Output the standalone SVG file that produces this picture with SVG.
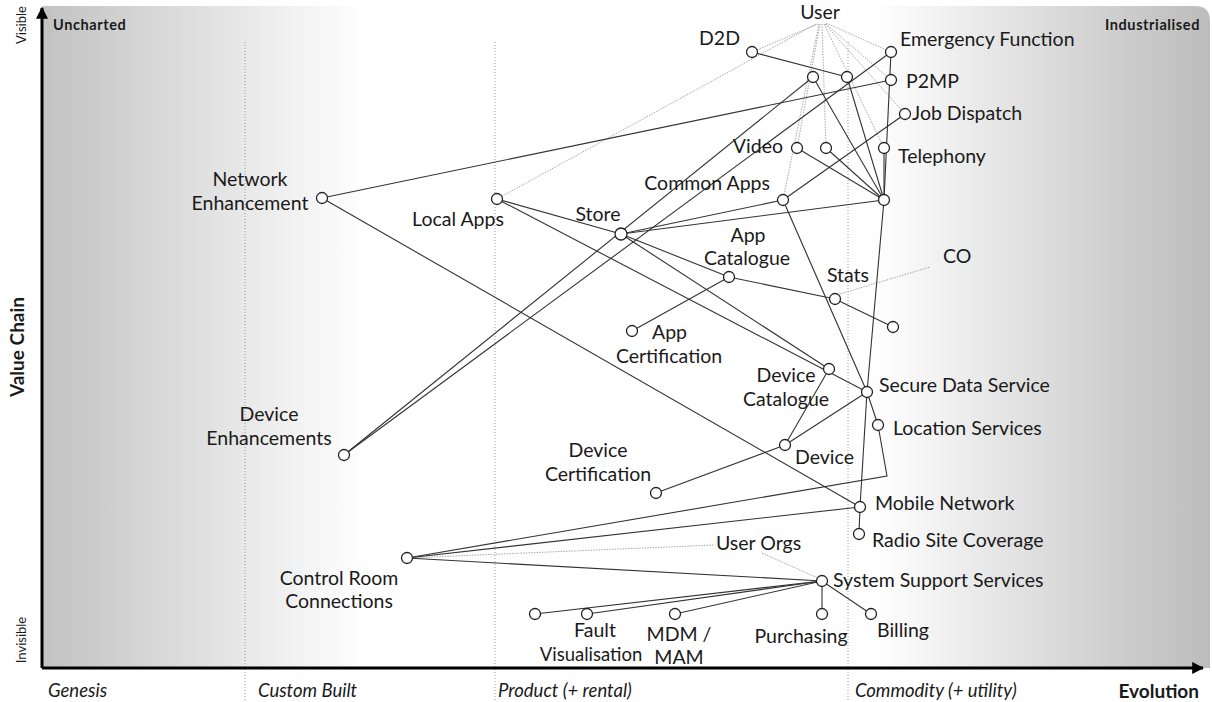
<svg xmlns="http://www.w3.org/2000/svg" width="1212" height="702" viewBox="0 0 1212 702">
<defs>
<linearGradient id="bg" gradientUnits="userSpaceOnUse" x1="42" y1="0" x2="1210" y2="0">
<stop offset="0" stop-color="#c2c2c2"/>
<stop offset="0.277" stop-color="#ffffff"/>
<stop offset="0.71" stop-color="#ffffff"/>
<stop offset="1" stop-color="#bcbcbc"/>
</linearGradient>
<marker id="ah" viewBox="0 0 10 10" refX="9" refY="5" markerWidth="4" markerHeight="4" orient="auto" markerUnits="strokeWidth">
<path d="M0,0 L10,5 L0,10 z" fill="#000"/>
</marker>
</defs>
<style>
text{font-family:Lato,"Open Sans","DejaVu Sans",sans-serif;fill:#1a1a1a}
.lb{font-size:19.5px}
.lbn{font-size:18.5px}
.sm{font-size:14.5px;font-weight:bold;letter-spacing:0.6px}
.ax{font-size:18.5px;font-style:italic}
.axb{font-size:19px;font-weight:bold}
.vis{font-size:13px}
.c{fill:#fff;stroke:#222;stroke-width:1.3}
.s{stroke:#333;stroke-width:1.1;fill:none}
.d{stroke:#a8a8a8;stroke-width:1;stroke-dasharray:1.5 1.2;fill:none}
.ev{stroke:#9a9a9a;stroke-width:1;stroke-dasharray:1 2;fill:none}
</style>
<path d="M42,6 L1195,6 Q1210,6 1210,21 L1210,668 L42,668 Z" fill="url(#bg)"/>
<g id="evolution-lines">
<line class="ev" x1="245" y1="42" x2="245" y2="702"/>
<line class="ev" x1="495" y1="42" x2="495" y2="702"/>
<line class="ev" x1="848" y1="42" x2="848" y2="702"/>
</g>
<g id="axes">
<line x1="42" y1="668" x2="42" y2="8" stroke="#000" stroke-width="3" marker-end="url(#ah)"/>
<line x1="42" y1="668" x2="1203" y2="668" stroke="#000" stroke-width="3" marker-end="url(#ah)"/>
<text class="sm" x="53" y="30">Uncharted</text>
<text class="sm" x="1200" y="30" text-anchor="end">Industrialised</text>
<text class="vis" transform="translate(26,25) rotate(-90)" text-anchor="middle">Visible</text>
<text class="vis" transform="translate(26,640) rotate(-90)" text-anchor="middle">Invisible</text>
<text class="axb" transform="translate(24,347) rotate(-90)" text-anchor="middle">Value Chain</text>
<text class="ax" x="48" y="697">Genesis</text>
<text class="ax" x="258" y="697">Custom Built</text>
<text class="ax" x="498" y="697">Product (+ rental)</text>
<text class="ax" x="855" y="697">Commodity (+ utility)</text>
<text class="axb" x="1199" y="698" text-anchor="end">Evolution</text>
</g>
<g id="connectors">
<line class="d" x1="818" y1="24" x2="752" y2="52"/>
<line class="d" x1="816" y1="24" x2="497" y2="199"/>
<line class="d" x1="819" y1="24" x2="783" y2="200"/>
<line class="d" x1="820" y1="24" x2="797" y2="148"/>
<line class="d" x1="822" y1="24" x2="826" y2="148"/>
<line class="d" x1="824" y1="24" x2="884" y2="148"/>
<line class="d" x1="825" y1="24" x2="905" y2="114"/>
<line class="d" x1="826" y1="24" x2="891" y2="80"/>
<line class="d" x1="826" y1="23" x2="891" y2="52"/>
<line class="d" x1="840" y1="294" x2="930" y2="267"/>
<line class="d" x1="407" y1="558" x2="714" y2="545"/>
<line class="d" x1="762" y1="553" x2="820" y2="579"/>
<line class="s" x1="752" y1="52" x2="847" y2="77"/>
<line class="s" x1="891" y1="52" x2="884" y2="200"/>
<line class="s" x1="891" y1="52" x2="344" y2="455"/>
<line class="s" x1="891" y1="80" x2="322" y2="198"/>
<line class="s" x1="813" y1="77" x2="344" y2="455"/>
<line class="s" x1="813" y1="77" x2="884" y2="200"/>
<line class="s" x1="847" y1="77" x2="884" y2="200"/>
<line class="s" x1="797" y1="148" x2="884" y2="200"/>
<line class="s" x1="826" y1="148" x2="884" y2="200"/>
<line class="s" x1="884" y1="148" x2="884" y2="200"/>
<line class="s" x1="905" y1="114" x2="783" y2="200"/>
<line class="s" x1="621" y1="234" x2="783" y2="200"/>
<line class="s" x1="621" y1="234" x2="884" y2="200"/>
<line class="s" x1="497" y1="199" x2="621" y2="234"/>
<line class="s" x1="497" y1="199" x2="867" y2="392"/>
<line class="s" x1="621" y1="234" x2="829" y2="369"/>
<line class="s" x1="621" y1="234" x2="729" y2="277"/>
<line class="s" x1="729" y1="277" x2="835" y2="299"/>
<line class="s" x1="835" y1="299" x2="893" y2="327"/>
<line class="s" x1="632" y1="331" x2="729" y2="277"/>
<line class="s" x1="783" y1="200" x2="867" y2="392"/>
<line class="s" x1="884" y1="200" x2="867" y2="392"/>
<line class="s" x1="867" y1="392" x2="860" y2="507"/>
<line class="s" x1="322" y1="198" x2="860" y2="507"/>
<line class="s" x1="829" y1="369" x2="785" y2="445"/>
<line class="s" x1="785" y1="445" x2="867" y2="392"/>
<line class="s" x1="656" y1="493" x2="785" y2="445"/>
<line class="s" x1="867" y1="392" x2="878" y2="425"/>
<polyline class="s" points="407,558 887,476 878,425"/>
<line class="s" x1="407" y1="558" x2="860" y2="507"/>
<line class="s" x1="407" y1="558" x2="822" y2="581"/>
<line class="s" x1="860" y1="507" x2="859" y2="534"/>
<line class="s" x1="822" y1="581" x2="535" y2="614"/>
<line class="s" x1="822" y1="581" x2="587" y2="614"/>
<line class="s" x1="822" y1="581" x2="675" y2="614"/>
<line class="s" x1="822" y1="581" x2="822" y2="614"/>
<line class="s" x1="822" y1="581" x2="871" y2="614"/>
</g>
<g id="user"><text class="lb" x="820" y="19" text-anchor="middle">User</text></g>
<g id="d2d"><circle class="c" cx="752" cy="52" r="5.5"/><text class="lb" x="740" y="45" text-anchor="end">D2D</text></g>
<g id="emergency-function"><circle class="c" cx="891" cy="52" r="5.5"/><text class="lb" x="900" y="46">Emergency Function</text></g>
<g id="p2mp"><circle class="c" cx="891" cy="80" r="5.5"/><text class="lb" x="906" y="88">P2MP</text></g>
<g id="n1"><circle class="c" cx="813" cy="77" r="5.5"/></g>
<g id="n2"><circle class="c" cx="847" cy="77" r="5.5"/></g>
<g id="job-dispatch"><circle class="c" cx="905" cy="114" r="5.5"/><text class="lb" x="912" y="120">Job Dispatch</text></g>
<g id="video"><circle class="c" cx="797" cy="148" r="5.5"/><text class="lb" x="783" y="153" text-anchor="end">Video</text></g>
<g id="n3"><circle class="c" cx="826" cy="148" r="5.5"/></g>
<g id="telephony"><circle class="c" cx="884" cy="148" r="5.5"/><text class="lb" x="898" y="163">Telephony</text></g>
<g id="common-apps"><circle class="c" cx="783" cy="200" r="5.5"/><text class="lb" x="770" y="190" text-anchor="end">Common Apps</text></g>
<g id="hub"><circle class="c" cx="884" cy="200" r="5.5"/></g>
<g id="network-enhancement"><circle class="c" cx="322" cy="198" r="5.5"/><text class="lb" x="250" y="186" text-anchor="middle">Network</text><text class="lb" x="250" y="210" text-anchor="middle">Enhancement</text></g>
<g id="local-apps"><circle class="c" cx="497" cy="199" r="5.5"/><text class="lb" x="458" y="226" text-anchor="middle">Local Apps</text></g>
<g id="store"><circle class="c" cx="621" cy="234" r="6"/><text class="lb" x="598" y="221" text-anchor="middle">Store</text></g>
<g id="app-catalogue"><circle class="c" cx="729" cy="277" r="5.5"/><text class="lb" x="748" y="242" text-anchor="middle">App</text><text class="lb" x="747" y="265" text-anchor="middle">Catalogue</text></g>
<g id="stats"><circle class="c" cx="835" cy="299" r="5.5"/><text class="lb" x="848" y="282" text-anchor="middle">Stats</text></g>
<g id="co"><text class="lb" x="943" y="263">CO</text></g>
<g id="n4"><circle class="c" cx="893" cy="327" r="5.5"/></g>
<g id="app-certification"><circle class="c" cx="632" cy="331" r="5.5"/><text class="lb" x="652" y="339">App</text><text class="lb" x="669" y="363" text-anchor="middle">Certification</text></g>
<g id="device-catalogue"><circle class="c" cx="829" cy="369" r="5.5"/><text class="lb" x="786" y="382" text-anchor="middle">Device</text><text class="lb" x="786" y="406" text-anchor="middle">Catalogue</text></g>
<g id="secure-data-service"><circle class="c" cx="867" cy="392" r="5.5"/><text class="lb" x="879" y="392">Secure Data Service</text></g>
<g id="location-services"><circle class="c" cx="878" cy="425" r="5.5"/><text class="lb" x="893" y="435">Location Services</text></g>
<g id="device-enhancements"><circle class="c" cx="344" cy="455" r="5.5"/><text class="lb" x="269" y="421" text-anchor="middle">Device</text><text class="lb" x="269" y="445" text-anchor="middle">Enhancements</text></g>
<g id="device"><circle class="c" cx="785" cy="445" r="5.5"/><text class="lb" x="795" y="464">Device</text></g>
<g id="device-certification"><circle class="c" cx="656" cy="493" r="5.5"/><text class="lb" x="598" y="457" text-anchor="middle">Device</text><text class="lb" x="598" y="481" text-anchor="middle">Certification</text></g>
<g id="mobile-network"><circle class="c" cx="860" cy="507" r="5.5"/><text class="lb" x="875" y="510">Mobile Network</text></g>
<g id="radio-site-coverage"><circle class="c" cx="859" cy="534" r="5.5"/><text class="lb" x="872" y="547">Radio Site Coverage</text></g>
<g id="control-room-connections"><circle class="c" cx="407" cy="558" r="5.5"/><text class="lb" x="339" y="585" text-anchor="middle">Control Room</text><text class="lb" x="339" y="608" text-anchor="middle">Connections</text></g>
<g id="user-orgs"><text class="lb" x="716" y="550">User Orgs</text></g>
<g id="system-support-services"><circle class="c" cx="822" cy="581" r="5.5"/><text class="lb" x="833" y="587">System Support Services</text></g>
<g id="n5"><circle class="c" cx="535" cy="614" r="5.5"/></g>
<g id="fault-visualisation"><circle class="c" cx="587" cy="614" r="5.5"/><text class="lb" x="595" y="637" text-anchor="middle">Fault</text><text class="lbn" x="591" y="661" text-anchor="middle">Visualisation</text></g>
<g id="mdm-mam"><circle class="c" cx="675" cy="614" r="5.5"/><text class="lb" x="679" y="641" text-anchor="middle">MDM /</text><text class="lb" x="679" y="664" text-anchor="middle">MAM</text></g>
<g id="purchasing"><circle class="c" cx="822" cy="614" r="5.5"/><text class="lb" x="801" y="643" text-anchor="middle">Purchasing</text></g>
<g id="billing"><circle class="c" cx="871" cy="614" r="5.5"/><text class="lb" x="877" y="637">Billing</text></g>
</svg>
